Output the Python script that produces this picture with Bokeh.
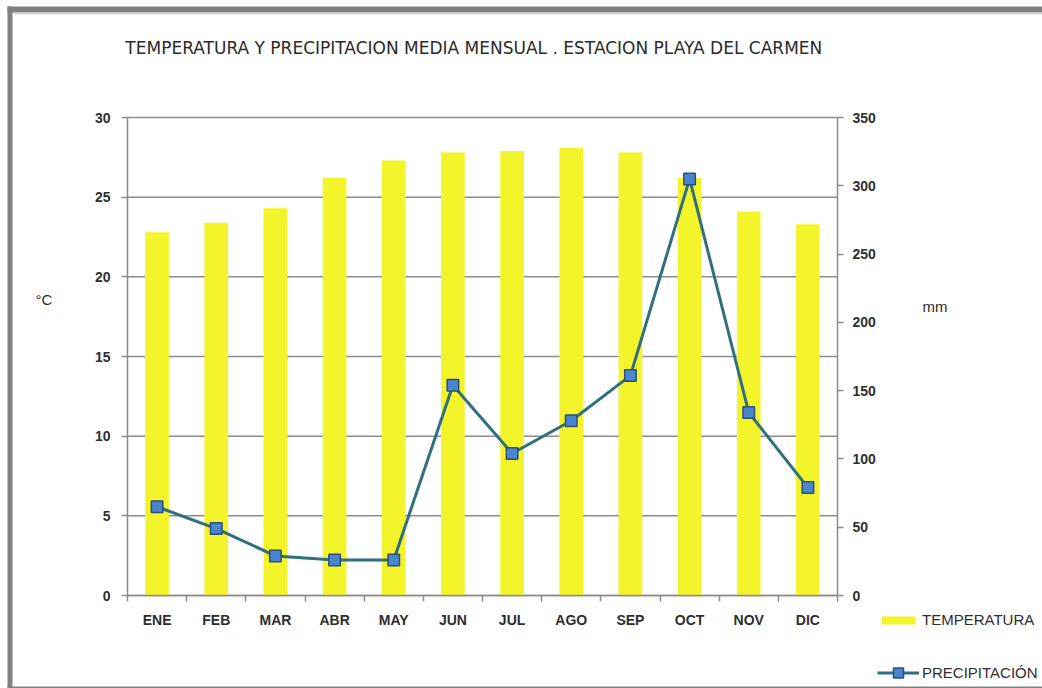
from bokeh.plotting import figure
from bokeh.models import (Range1d, LinearAxis, FixedTicker, Label, Legend, LegendItem,
                          BoxAnnotation)
from bokeh.embed import file_html
from bokeh.resources import INLINE

# Monthly climate normals, Playa del Carmen station
months = ["ENE", "FEB", "MAR", "ABR", "MAY", "JUN", "JUL", "AGO", "SEP", "OCT", "NOV", "DIC"]
temperatura = [22.8, 23.4, 24.3, 26.2, 27.3, 27.8, 27.9, 28.1, 27.8, 26.2, 24.1, 23.3]
precipitacion = [65, 49, 29, 26, 26, 154, 104, 128, 161, 305, 134, 79]

temp_ticks = [0, 5, 10, 15, 20, 25, 30]
mm_ticks = [0, 50, 100, 150, 200, 250, 300, 350]

FONT = "Liberation Sans"
TXT = "#2e2e2e"
AXC = "#8c8c8c"

# page size and the rectangle holding the bars (pixels from the top-left corner)
W, H = 1042, 688
PL, PR, PT, PB = 127, 837, 117, 595

n = len(months)
t_max, mm_max = temp_ticks[-1], mm_ticks[-1]
# the whole canvas is the data frame so that labels and the legend may sit outside the bars area
ppx = (PR - PL) / n
ppy = (PB - PT) / t_max
mm_ppy = (PB - PT) / mm_max
x_range = Range1d(-PL / ppx, n + (W - PR) / ppx)
y_range = Range1d(-(H - PB) / ppy, t_max + PT / ppy)
mm_range = Range1d(-(H - PB) / mm_ppy, mm_max + PT / mm_ppy)

# each month occupies one unit slot, centred at i + 0.5
xpos = [i + 0.5 for i in range(n)]

p = figure(width=W, height=H, x_range=x_range, y_range=y_range,
           output_backend="svg", toolbar_location=None,
           x_axis_location=None, y_axis_location=None, min_border=0)
p.title.visible = False
p.outline_line_color = None
p.background_fill_color = "white"
p.border_fill_color = "white"
p.extra_y_ranges = {"mm": mm_range}
p.xgrid.visible = False
p.ygrid.visible = False

# horizontal gridlines at the temperature ticks
p.segment(x0=0, x1=n, y0=temp_ticks, y1=temp_ticks, line_color=AXC, line_width=1.5)


def style_axis(ax):
    ax.axis_line_color = AXC
    ax.axis_line_width = 1.5
    ax.major_tick_line_color = AXC
    ax.major_tick_line_width = 1.5
    ax.major_tick_in = 0
    ax.major_tick_out = 6
    ax.minor_tick_line_color = None
    ax.major_label_text_font = FONT
    ax.major_label_text_font_size = "14px"
    ax.major_label_text_font_style = "bold"
    ax.major_label_text_color = TXT
    ax.major_label_standoff = 10


left = LinearAxis(ticker=FixedTicker(ticks=temp_ticks), fixed_location=0, bounds=(0, t_max))
style_axis(left)
left.major_label_standoff = 11
p.add_layout(left, "left")

right = LinearAxis(y_range_name="mm", ticker=FixedTicker(ticks=mm_ticks),
                   fixed_location=n, bounds=(0, mm_max))
style_axis(right)
right.major_label_standoff = 9
p.add_layout(right, "right")

# month names under each slot, with the tick marks falling between the months
bottom = LinearAxis(ticker=FixedTicker(ticks=xpos, minor_ticks=list(range(n + 1))),
                    fixed_location=0, bounds=(0, n),
                    major_label_overrides={x: m for x, m in zip(xpos, months)})
style_axis(bottom)
bottom.major_tick_line_color = None
bottom.major_tick_out = 0
bottom.minor_tick_line_color = AXC
bottom.minor_tick_line_width = 1.5
bottom.minor_tick_in = 0
bottom.minor_tick_out = 6
bottom.major_label_standoff = 10
p.add_layout(bottom, "below")

bars = p.vbar(x=xpos, top=temperatura, width=0.4, fill_color="#F4F42A", line_color=None)
line = p.line(x=xpos, y=precipitacion, y_range_name="mm", line_color="#2F6F80", line_width=3)
marks = p.scatter(x=xpos, y=precipitacion, y_range_name="mm", marker="square", size=11.5,
                  fill_color="#4A86D0", line_color="#2B4F7A", line_width=1.5)

legend_style = dict(orientation="vertical", background_fill_alpha=0, border_line_color=None,
                    label_text_font=FONT, label_text_font_size="15px", label_text_color=TXT,
                    glyph_width=42, padding=0, margin=0, label_standoff=3)
# the two keys sit far apart and use different swatch heights
p.add_layout(Legend(items=[LegendItem(label="TEMPERATURA", renderers=[bars])],
                    location=(877, 60), glyph_height=10, label_height=15, **legend_style),
             "center")
p.add_layout(Legend(items=[LegendItem(label="PRECIPITACIÓN", renderers=[line, marks])],
                    location=(877, 3), glyph_height=25, label_height=25, **legend_style),
             "center")

# title and unit labels (screen units, measured up from the bottom edge)
p.add_layout(Label(x=476, y=H - 47, x_units="screen", y_units="screen",
                   text="TEMPERATURA Y PRECIPITACION  MEDIA MENSUAL . ESTACION PLAYA DEL CARMEN",
                   text_font="DejaVu Sans", text_font_size="17px", text_color="#2a2a2a",
                   text_align="center", text_baseline="middle"))
p.add_layout(Label(x=35, y=H - 299, x_units="screen", y_units="screen", text="°C",
                   text_font=FONT, text_font_size="15px", text_color=TXT,
                   text_baseline="middle"))
p.add_layout(Label(x=922, y=H - 306, x_units="screen", y_units="screen", text="mm",
                   text_font=FONT, text_font_size="15px", text_color=TXT,
                   text_baseline="middle"))

# picture frame: thick grey band on the top, left and bottom edges
for l, r, b, t, c in [(7, 12, 0, H - 6, "#808080"), (7, W, H - 12, H - 6, "#808080"),
                      (12, W, H - 14, H - 12.5, "#d4d4d4"), (7, W, 0, 2, "#808080")]:
    p.add_layout(BoxAnnotation(left=l, right=r, bottom=b, top=t,
                               left_units="screen", right_units="screen",
                               bottom_units="screen", top_units="screen",
                               fill_color=c, fill_alpha=1, line_color=None))

open("out.html", "w").write(file_html(p, INLINE))
